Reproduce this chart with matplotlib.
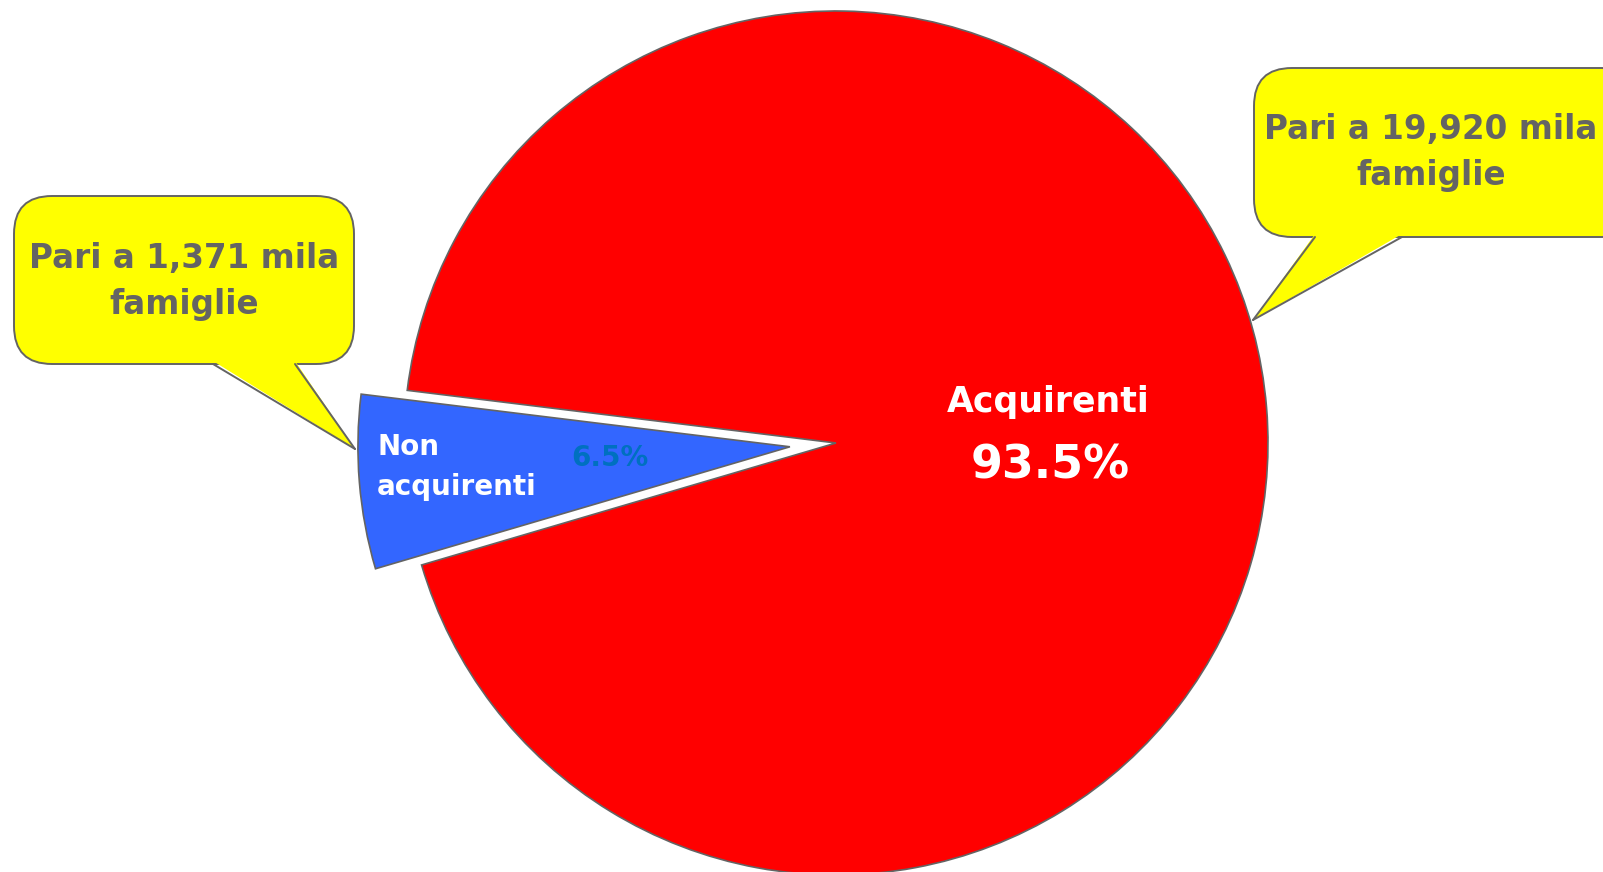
import matplotlib
matplotlib.use("Agg")
import matplotlib.pyplot as plt
from matplotlib.patches import FancyBboxPatch, Polygon

# data
categories = ['Non\nacquirenti', 'Acquirenti']
shares = [6.5, 93.5]
families = ['1,371', '19,920']

W, H = 1603, 872
fig = plt.figure(figsize=(W / 100, H / 100), dpi=100)
ax = fig.add_axes([0, 0, 1, 1])

EDGE = '#646464'
GREY = '#646464'

# pie in pixel units, y axis pointing up
cx, cy, R = 836, H - 443, 432
# explode is in data units here (pixels), not radius fractions
wedges, _ = ax.pie(shares, colors=['#3366FF', '#FF0000'], startangle=173,
                   explode=[0.107 * R, 0], center=(cx, cy), radius=R,
                   wedgeprops=dict(edgecolor=EDGE, linewidth=1.2))
ax.set_xlim(0, W)
ax.set_ylim(0, H)
ax.set_aspect('equal')
ax.axis('off')

font = 'DejaVu Sans'

# slice labels
ax.text(1048, H - 402, categories[1], ha='center', va='center', color='white',
        fontsize=25, fontweight='bold', family=font)
ax.text(1050, H - 466, f'{shares[1]}%', ha='center', va='center', color='white',
        fontsize=33, fontweight='bold', family=font)
ax.text(377, H - 467, categories[0], ha='left', va='center', color='white',
        fontsize=20, fontweight='bold', family=font, linespacing=1.55)
ax.text(610, H - 458, f'{shares[0]}%', ha='center', va='center', color='#0070C0',
        fontsize=20, fontweight='bold', family=font)


def callout(x0, y0, x1, y1, base, tip, text, tx, ty):
    # rounded yellow box with a pointed tail, pixel coords (y down)
    box = FancyBboxPatch((x0, H - y1), x1 - x0, y1 - y0,
                         boxstyle='round,pad=0,rounding_size=38',
                         facecolor='#FFFF00', edgecolor=EDGE, linewidth=1.4,
                         zorder=5)
    ax.add_patch(box)
    tail = Polygon([(base[0], H - y1 + 3), (tip[0], H - tip[1]), (base[1], H - y1 + 3)],
                   closed=True, facecolor='#FFFF00', edgecolor='none', zorder=6)
    ax.add_patch(tail)
    for bx in base:
        ax.plot([bx, tip[0]], [H - y1, H - tip[1]], color=EDGE, lw=1.4,
                zorder=7, solid_capstyle='round')
    ax.text(tx, H - ty, text, ha='center', va='center', color=GREY,
            fontsize=23.5, fontweight='bold', family=font, zorder=8,
            linespacing=1.5)


callout(14, 196, 354, 364, (213, 295), (355, 449),
        f'Pari a {families[0]} mila\nfamiglie', 184, 281)
callout(1254, 68, 1640, 237, (1315, 1402), (1253, 320),
        f'Pari a {families[1]} mila\nfamiglie', 1431, 152)

fig.savefig('out.png', dpi=100)
